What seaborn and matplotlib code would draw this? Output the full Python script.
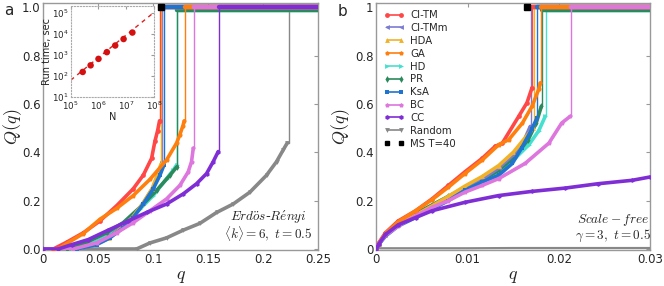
import matplotlib
matplotlib.use("Agg")
import matplotlib.pyplot as plt
from matplotlib.lines import Line2D
import seaborn as sns

# series names, colours and markers (legend order)
names = ["CI-TM", "CI-TMm", "HDA", "GA", "HD", "PR", "KsA", "BC", "CC", "Random"]
colors = ["#ff4747", "#7b7bd2", "#f2b227", "#ff7f0e", "#45e0d0",
          "#2b8a5c", "#1f74d0", "#dd77dd", "#7f2ed6", "#888888"]
markers = ["o", "<", "^", "p", ">", "d", "s", "p", "h", "v"]

# panel a: Erdos-Renyi, rising part of each curve (q, Q) and the jump to 1
er_q = {
    "CI-TM": [0, 0.0091, 0.0212, 0.0364, 0.0515, 0.0667, 0.0818, 0.0909, 0.0985, 0.1015, 0.104, 0.1057],
    "CI-TMm": [0, 0.029, 0.047, 0.06, 0.072, 0.082, 0.091, 0.1, 0.105, 0.108],
    "HDA": [0, 0.03, 0.048, 0.06, 0.072, 0.081, 0.09, 0.099, 0.104, 0.107],
    "GA": [0, 0.0136, 0.0212, 0.0364, 0.0515, 0.0667, 0.0818, 0.097, 0.1121, 0.1212, 0.124, 0.127, 0.1282],
    "HD": [0, 0.0273, 0.0455, 0.0606, 0.0758, 0.0879, 0.1, 0.1121, 0.1182, 0.1212],
    "PR": [0, 0.0212, 0.0394, 0.0576, 0.0727, 0.0879, 0.103, 0.1152, 0.1215],
    "KsA": [0, 0.0303, 0.0485, 0.0606, 0.0727, 0.0818, 0.0909, 0.1, 0.1061, 0.1097],
    "BC": [0, 0.0273, 0.0485, 0.0667, 0.0818, 0.097, 0.1121, 0.1242, 0.1318, 0.1348, 0.1364],
    "CC": [0, 0.0136, 0.0258, 0.0409, 0.0591, 0.0773, 0.0939, 0.1121, 0.1273, 0.1394, 0.1485, 0.1545, 0.1591],
    "Random": [0, 0.0848, 0.097, 0.1121, 0.1273, 0.1424, 0.1576, 0.1727, 0.1879, 0.203, 0.2121, 0.2182, 0.2218],
}
er_Q = {
    "CI-TM": [0, 0, 0.028, 0.067, 0.116, 0.179, 0.249, 0.305, 0.375, 0.445, 0.49, 0.53],
    "CI-TMm": [0, 0, 0.02, 0.05, 0.093, 0.135, 0.19, 0.255, 0.31, 0.36],
    "HDA": [0, 0, 0.02, 0.045, 0.09, 0.13, 0.185, 0.25, 0.31, 0.35],
    "GA": [0, 0, 0.022, 0.064, 0.123, 0.168, 0.221, 0.288, 0.368, 0.438, 0.47, 0.51, 0.53],
    "HD": [0, 0, 0.025, 0.06, 0.109, 0.165, 0.221, 0.291, 0.326, 0.347],
    "PR": [0, 0, 0.028, 0.067, 0.109, 0.172, 0.242, 0.305, 0.34],
    "KsA": [0, 0, 0.018, 0.046, 0.088, 0.13, 0.186, 0.249, 0.305, 0.347],
    "BC": [0, 0, 0.025, 0.067, 0.109, 0.158, 0.207, 0.263, 0.319, 0.361, 0.417],
    "CC": [0, 0, 0.018, 0.039, 0.078, 0.116, 0.151, 0.186, 0.228, 0.27, 0.312, 0.361, 0.403],
    "Random": [0, 0, 0.025, 0.046, 0.078, 0.106, 0.151, 0.186, 0.235, 0.305, 0.361, 0.41, 0.438],
}
er_jump = {"CI-TM": 0.1057, "CI-TMm": 0.108, "HDA": 0.107, "GA": 0.1285, "HD": 0.1215,
           "PR": 0.1218, "KsA": 0.1097, "BC": 0.1367, "CC": 0.1595, "Random": 0.2236}

# panel b: scale-free
sf_q = {
    "CI-TM": [0, 0.00026, 0.001, 0.0024, 0.0043, 0.0061, 0.0079, 0.0097, 0.0116, 0.013, 0.0138, 0.0156, 0.0165, 0.01705],
    "CI-TMm": [0, 0.00026, 0.001, 0.0024, 0.0043, 0.0061, 0.0079, 0.0097, 0.0116, 0.0134, 0.015, 0.0162, 0.01686],
    "HDA": [0, 0.00026, 0.001, 0.0024, 0.0043, 0.0061, 0.0079, 0.0097, 0.0116, 0.0134, 0.015, 0.0163, 0.0172],
    "GA": [0, 0.00026, 0.001, 0.0024, 0.0043, 0.0061, 0.0079, 0.0097, 0.0116, 0.0134, 0.0145, 0.016, 0.01705, 0.01778, 0.01796],
    "HD": [0, 0.00026, 0.001, 0.0024, 0.0043, 0.0061, 0.0079, 0.0097, 0.0116, 0.0134, 0.0152, 0.0167, 0.0178, 0.0185],
    "PR": [0, 0.00026, 0.001, 0.0024, 0.0043, 0.0061, 0.0079, 0.0097, 0.0116, 0.0134, 0.0152, 0.0166, 0.0175, 0.01807],
    "KsA": [0, 0.00026, 0.001, 0.0024, 0.0043, 0.0061, 0.0079, 0.0097, 0.0116, 0.0134, 0.0149, 0.0159, 0.01705, 0.0176],
    "BC": [0, 0.00026, 0.001, 0.0024, 0.0043, 0.0061, 0.0079, 0.0097, 0.0116, 0.0134, 0.0163, 0.0189, 0.0203, 0.02124],
    "CC": [0, 0.00026, 0.001, 0.0024, 0.0043, 0.0061, 0.0097, 0.0134, 0.017, 0.0207, 0.0243, 0.028, 0.03],
    "Random": [0, 0.005, 0.01, 0.015, 0.02, 0.025, 0.03],
}
sf_Q = {
    "CI-TM": [0, 0.025, 0.067, 0.116, 0.158, 0.207, 0.263, 0.319, 0.375, 0.424, 0.438, 0.549, 0.605, 0.667],
    "CI-TMm": [0, 0.02, 0.058, 0.1, 0.137, 0.173, 0.212, 0.252, 0.29, 0.335, 0.39, 0.45, 0.507],
    "HDA": [0, 0.02, 0.058, 0.102, 0.14, 0.178, 0.218, 0.26, 0.3, 0.345, 0.4, 0.46, 0.5],
    "GA": [0, 0.022, 0.064, 0.112, 0.158, 0.204, 0.256, 0.312, 0.368, 0.431, 0.452, 0.521, 0.59, 0.66, 0.687],
    "HD": [0, 0.021, 0.06, 0.105, 0.144, 0.179, 0.214, 0.249, 0.28, 0.319, 0.375, 0.431, 0.49, 0.549],
    "PR": [0, 0.021, 0.06, 0.106, 0.146, 0.182, 0.218, 0.254, 0.286, 0.325, 0.385, 0.45, 0.52, 0.59],
    "KsA": [0, 0.018, 0.053, 0.095, 0.13, 0.165, 0.2, 0.242, 0.277, 0.305, 0.354, 0.417, 0.497, 0.542],
    "BC": [0, 0.021, 0.056, 0.095, 0.137, 0.172, 0.2, 0.235, 0.263, 0.291, 0.354, 0.438, 0.521, 0.549],
    "CC": [0, 0.02, 0.06, 0.1, 0.13, 0.158, 0.193, 0.221, 0.238, 0.252, 0.27, 0.284, 0.298],
    "Random": [0.003, 0.003, 0.003, 0.004, 0.004, 0.004, 0.004],
}
sf_jump = {"CI-TM": 0.01705, "CI-TMm": 0.0169, "HDA": 0.01723, "GA": 0.0180, "HD": 0.0186,
           "PR": 0.0181, "KsA": 0.0176, "BC": 0.0213, "CC": None, "Random": None}

# plateau height after the jump
Q_top = {"CI-TM": 1.0, "CI-TMm": 1.0, "HDA": 1.0, "GA": 1.0, "HD": 0.99,
         "PR": 0.99, "KsA": 1.0, "BC": 1.0, "CC": 1.0, "Random": 1.0}

# message-passing result (black square)
ms_q = [0.107, 0.01653]
ms_Q = [1.0, 1.0]

# inset: run time vs N
run_N = [2.7e5, 5.2e5, 1.0e6, 2.0e6, 4.0e6, 8.0e6, 1.66e7]
run_t = [160, 330, 670, 1400, 2900, 5900, 12000]
fit_N = [1e5, 1e8]
fit_t = [65, 1.1e5]

# drawing order on the plateau (later = on top)
z_order = {"CI-TM": 3, "CI-TMm": 2, "HDA": 2, "GA": 5, "HD": 1, "PR": 1,
           "KsA": 4, "BC": 6, "CC": 7, "Random": 0}

sns.set_style("white")
plt.rcParams["mathtext.fontset"] = "cm"
plt.rcParams["font.family"] = ["DejaVu Sans"]

fig = plt.figure(figsize=(6.64, 2.86), dpi=100)
axa = fig.add_axes([0.0652, 0.126, 0.414, 0.865])
axb = fig.add_axes([0.5667, 0.126, 0.4127, 0.865])


def draw(ax, qd, Qd, jumps, xmax):
    for i, n in enumerate(names):
        c, m, z = colors[i], markers[i], z_order[n]
        if n == "Random" and xmax < 0.1:
            # flat random curve in panel b: plain thin line
            sns.lineplot(x=qd[n], y=Qd[n], ax=ax, color=c, lw=1.6,
                         sort=False, estimator=None, zorder=10 + z)
        else:
            sns.lineplot(x=qd[n], y=Qd[n], ax=ax, color=c, lw=2.6, marker=m, markersize=3.4,
                         markeredgewidth=0, sort=False, estimator=None, zorder=10 + z)
        j = jumps[n]
        if j is None:
            continue
        top = Q_top[n]
        sns.lineplot(x=[qd[n][-1], j, j], y=[Qd[n][-1], Qd[n][-1], top], ax=ax, color=c,
                     lw=1.0, sort=False, estimator=None, zorder=10 + z)
        sns.lineplot(x=[j, xmax], y=[top, top], ax=ax, color=c, lw=3.2,
                     sort=False, estimator=None, zorder=10 + z)


draw(axa, er_q, er_Q, er_jump, 0.25)
draw(axb, sf_q, sf_Q, sf_jump, 0.03)
axa.plot(ms_q[0], ms_Q[0], "s", color="black", ms=4, zorder=30)
axb.plot(ms_q[1], ms_Q[1], "s", color="black", ms=4, zorder=30)

for ax in (axa, axb):
    ax.set_ylim(-0.004, 1.019)
    ax.set_yticks([0, 0.2, 0.4, 0.6, 0.8, 1.0])
    ax.tick_params(direction="in", length=3, color="#999999", labelsize=8.5,
                   top=True, right=True, pad=2)
    for s in ax.spines.values():
        s.set_color("#999999")
        s.set_linewidth(1.0)
    ax.set_xlabel("$q$", fontsize=13, labelpad=1)
    ax.set_ylabel("$Q(q)$", fontsize=13)

axa.yaxis.set_label_coords(-0.072, 0.5)
axb.yaxis.set_label_coords(-0.09, 0.5)

axa.set_xlim(0, 0.25)
axa.set_xticks([0, 0.05, 0.1, 0.15, 0.2, 0.25])
axa.set_xticklabels(["0", "0.05", "0.1", "0.15", "0.2", "0.25"])
axa.set_yticklabels(["0.0", "0.2", "0.4", "0.6", "0.8", "1.0"])
axb.set_xlim(0, 0.03)
axb.set_xticks([0, 0.01, 0.02, 0.03])
axb.set_xticklabels(["0", "0.01", "0.02", "0.03"])
axb.set_yticklabels(["0", "0.2", "0.4", "0.6", "0.8", "1"])

axa.text(0.817, 0.133, r"$Erd\ddot{o}s$-$R\acute{e}nyi$", transform=axa.transAxes,
         ha="center", va="center", fontsize=9.5)
axa.text(0.817, 0.062, r"$\langle k\rangle = 6,\ t = 0.5$", transform=axa.transAxes,
         ha="center", va="center", fontsize=9.5)
axb.text(0.864, 0.121, r"$Scale-free$", transform=axb.transAxes,
         ha="center", va="center", fontsize=9.5)
axb.text(0.864, 0.057, r"$\gamma = 3,\ t = 0.5$", transform=axb.transAxes,
         ha="center", va="center", fontsize=9.5)

fig.text(0.006, 0.988, "a", fontsize=11, va="top")
fig.text(0.508, 0.985, "b", fontsize=11, va="top")

# legend
handles = [Line2D([0], [0], color=colors[i], marker=markers[i], lw=1.2, ms=3.5,
                  markeredgewidth=0) for i in range(len(names))]
handles.append(Line2D([0], [0], color="black", marker="s", lw=0, ms=3.5))
axb.legend(handles, names + ["MS T=40"], loc="upper left", bbox_to_anchor=(0.0, 1.0),
           frameon=False, fontsize=7.3, numpoints=2, handlelength=2.0,
           labelspacing=0.28, borderaxespad=0.35, handletextpad=0.6)

# inset
axi = fig.add_axes([0.1065, 0.66, 0.1255, 0.319])
sns.lineplot(x=fit_N, y=fit_t, ax=axi, color="#dd2222", lw=1.0, linestyle=(0, (3, 3)),
             sort=False, estimator=None)
sns.scatterplot(x=run_N, y=run_t, ax=axi, color="#d41010", s=22, edgecolor="none", zorder=5)
axi.set_xscale("log")
axi.set_yscale("log")
axi.set_xlim(1e5, 1e8)
axi.set_ylim(10, 2.2e5)
axi.set_xticks([1e5, 1e6, 1e7, 1e8])
axi.set_yticks([1e1, 1e2, 1e3, 1e4, 1e5])
axi.minorticks_off()
axi.tick_params(direction="in", length=2, color="#999999", labelsize=6.3, pad=1.5,
                top=True, right=True)
for s in axi.spines.values():
    s.set_color("#aaaaaa")
    s.set_linestyle(":")
axi.set_xlabel("N", fontsize=7, labelpad=0)
axi.set_ylabel("Run time, sec", fontsize=7, labelpad=0)

fig.savefig("out.png", dpi=100)
